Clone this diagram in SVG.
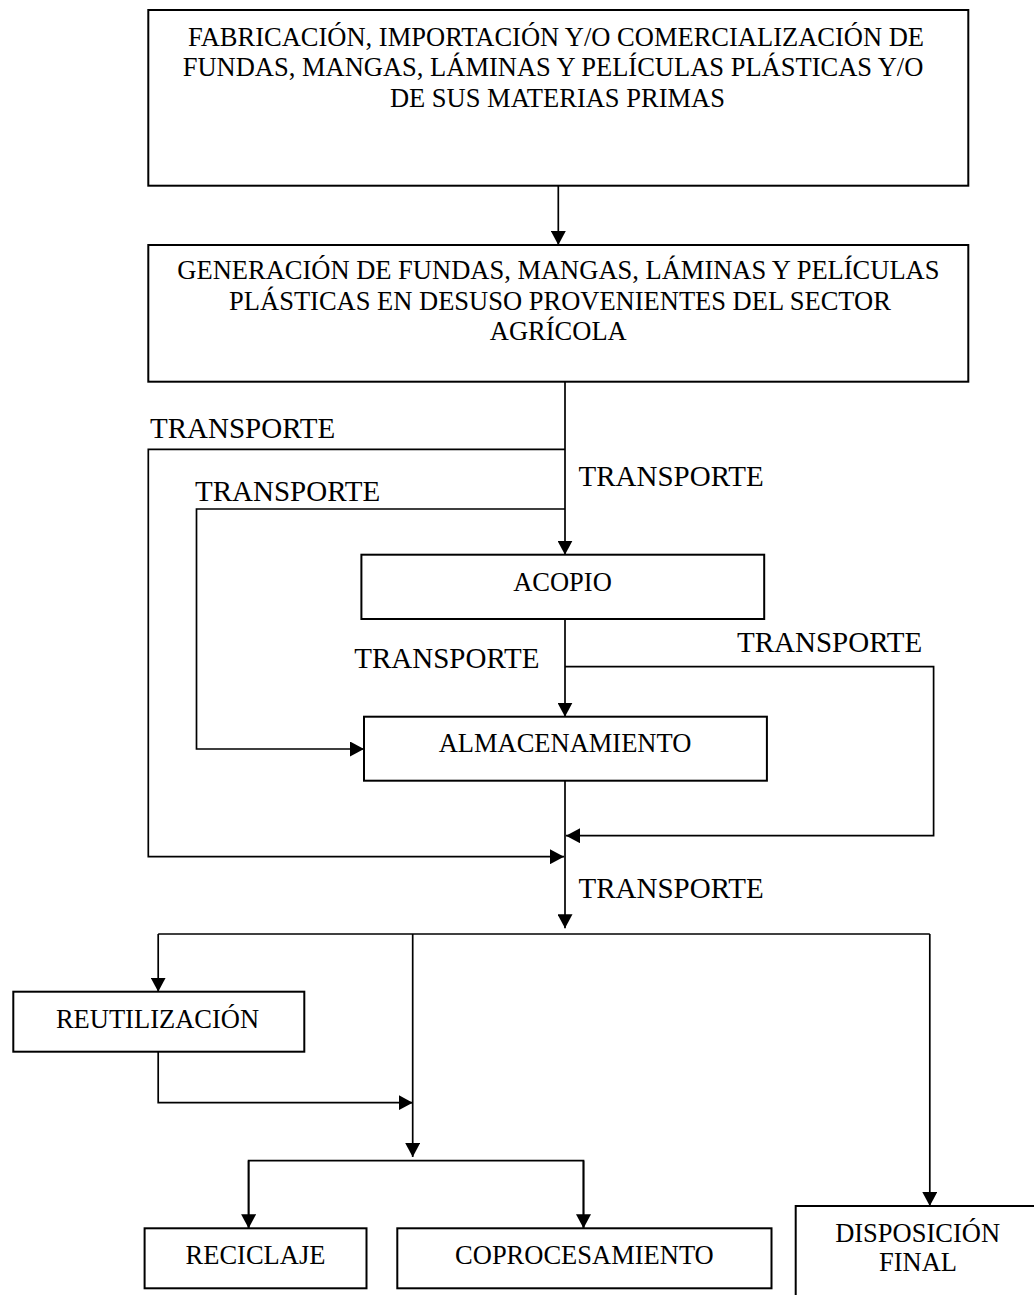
<svg xmlns="http://www.w3.org/2000/svg" width="1034" height="1295" viewBox="0 0 1034 1295">
<style>
  .box { fill: #ffffff; stroke: #000000; stroke-width: 2; }
  .t { font-family: "Liberation Serif", "Times New Roman", serif; font-size: 26.5px; fill: #000000; text-anchor: middle; }
  .lbl { font-family: "Liberation Serif", "Times New Roman", serif; font-size: 29px; fill: #000000; }
  .ln { fill: none; stroke: #000000; stroke-width: 1.7; }
  .arr { fill: none; stroke: #000000; stroke-width: 1.7; marker-end: url(#ah); }
</style>
<defs>
  <marker id="ah" markerUnits="userSpaceOnUse" markerWidth="15" markerHeight="15" refX="14" refY="7.5" orient="auto">
    <path d="M0,0 L14,7.5 L0,15 z" fill="#000000"/>
  </marker>
</defs>
<rect width="1034" height="1295" fill="#ffffff"/>

<g id="connectors">
  <line class="arr" x1="558.3" y1="186" x2="558.3" y2="245"/>
  <line class="arr" x1="565" y1="382" x2="565" y2="554.7"/>
  <polyline class="arr" points="565,449.3 148.3,449.3 148.3,856.7 564,856.7"/>
  <polyline class="arr" points="565,509 196.5,509 196.5,749 364,749"/>
  <line class="arr" x1="565" y1="619" x2="565" y2="716.7"/>
  <polyline class="arr" points="565,666.7 933.6,666.7 933.6,835.7 566,835.7"/>
  <line class="arr" x1="565" y1="780.7" x2="565" y2="928.3"/>
  <line class="ln" x1="158.2" y1="934" x2="929.8" y2="934"/>
  <line class="arr" x1="158.2" y1="934" x2="158.2" y2="991.7"/>
  <line class="arr" x1="929.8" y1="934" x2="929.8" y2="1206"/>
  <line class="arr" x1="412.7" y1="934" x2="412.7" y2="1157"/>
  <polyline class="arr" points="158.2,1051.7 158.2,1102.7 412.7,1102.7"/>
  <polyline class="ln" points="248.6,1228.3 248.6,1160.7 583.5,1160.7 583.5,1228.3"/>
  <line class="arr" x1="248.6" y1="1160.7" x2="248.6" y2="1228.3"/>
  <line class="arr" x1="583.5" y1="1160.7" x2="583.5" y2="1228.3"/>
  <text class="lbl" x="150" y="438">TRANSPORTE</text>
  <text class="lbl" x="195" y="500.7">TRANSPORTE</text>
  <text class="lbl" x="578.5" y="486">TRANSPORTE</text>
  <text class="lbl" x="354.3" y="667.7">TRANSPORTE</text>
  <text class="lbl" x="737" y="651.7">TRANSPORTE</text>
  <text class="lbl" x="578.5" y="898">TRANSPORTE</text>
</g>

<g id="fabricacion">
  <rect class="box" x="148.3" y="10" width="820" height="175.7"/>
  <text class="t" x="556" y="46">FABRICACIÓN, IMPORTACIÓN Y/O COMERCIALIZACIÓN DE</text>
  <text class="t" x="553" y="76">FUNDAS, MANGAS, LÁMINAS Y PELÍCULAS PLÁSTICAS Y/O</text>
  <text class="t" x="557.4" y="106.5">DE SUS MATERIAS PRIMAS</text>
</g>

<g id="generacion">
  <rect class="box" x="148.3" y="245" width="820" height="136.7"/>
  <text class="t" x="558.4" y="279.3">GENERACIÓN DE FUNDAS, MANGAS, LÁMINAS Y PELÍCULAS</text>
  <text class="t" x="560" y="310">PLÁSTICAS EN DESUSO PROVENIENTES DEL SECTOR</text>
  <text class="t" x="558.3" y="340">AGRÍCOLA</text>
</g>

<g id="acopio">
  <rect class="box" x="361.4" y="554.7" width="402.8" height="64.3"/>
  <text class="t" x="562.5" y="590.5">ACOPIO</text>
</g>

<g id="almacenamiento">
  <rect class="box" x="364" y="716.7" width="402.9" height="64"/>
  <text class="t" x="565" y="751.7">ALMACENAMIENTO</text>
</g>

<g id="reutilizacion">
  <rect class="box" x="13.3" y="991.7" width="291" height="60"/>
  <text class="t" x="157.5" y="1028.3">REUTILIZACIÓN</text>
</g>

<g id="reciclaje">
  <rect class="box" x="144.6" y="1228.3" width="221.9" height="60"/>
  <text class="t" x="255.5" y="1264">RECICLAJE</text>
</g>

<g id="coprocesamiento">
  <rect class="box" x="397.3" y="1228.3" width="374.2" height="60"/>
  <text class="t" x="584.4" y="1264">COPROCESAMIENTO</text>
</g>

<g id="disposicion">
  <rect class="box" x="795.7" y="1206" width="250" height="100"/>
  <text class="t" x="917.6" y="1241.7">DISPOSICIÓN</text>
  <text class="t" x="918" y="1270.7">FINAL</text>
</g>
</svg>
